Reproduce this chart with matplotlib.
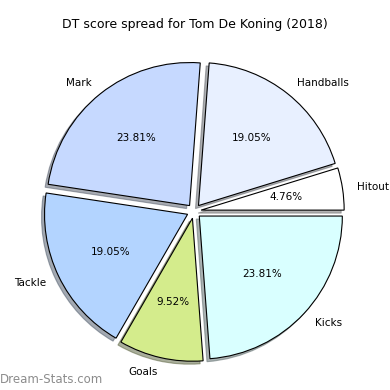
import matplotlib
matplotlib.use("Agg")
import matplotlib.pyplot as plt

labels = ["Hitout", "Handballs", "Mark", "Tackle", "Goals", "Kicks"]
values = [1, 4, 5, 4, 2, 5]
colors = ["#ffffff", "#e8f0ff", "#c6d9ff", "#b3d4ff", "#d4ec8c", "#d9ffff"]
explode = [0.05] * 6

fig = plt.figure(figsize=(3.9, 3.9), dpi=100)
ax = fig.add_axes([0.039, 0.0, 0.917, 0.917])
ax.pie(values, labels=labels, colors=colors, explode=explode, autopct="%1.2f%%",
       shadow={"ox": -0.015, "oy": -0.015, "shade": 0.6}, startangle=0,
       wedgeprops={"edgecolor": "black", "linewidth": 0.8},
       textprops={"fontsize": 7.5})
ax.set_aspect("equal")
fig.text(0.5, 0.936, "DT score spread for Tom De Koning (2018)", ha="center", va="center", fontsize=9)
fig.text(0.0, 0.027, "Dream-Stats.com", ha="left", va="center", fontsize=8.5, color="#8c8c8c")
fig.savefig("out.png", dpi=100)
